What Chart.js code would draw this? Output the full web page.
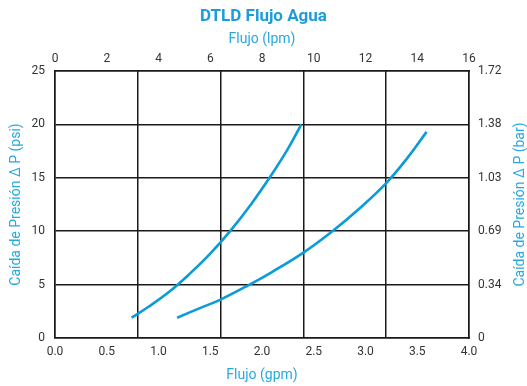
<!DOCTYPE html>
<html>
<head>
<meta charset="utf-8">
<script src="https://cdn.jsdelivr.net/npm/chart.js@4.4.1/dist/chart.umd.min.js"></script>
<style>
  html, body { margin: 0; padding: 0; background: #fff; }
  #wrap { width: 527px; height: 386px; }
</style>
</head>
<body>
<div id="wrap"><canvas id="flowChart" width="527" height="386"></canvas></div>
<script>
// tick labels
const gpmTicks = [0, 0.5, 1, 1.5, 2, 2.5, 3, 3.5, 4];
const lpmTicks = [0, 2, 4, 6, 8, 10, 12, 14, 16];
const psiTicks = [0, 5, 10, 15, 20, 25];
const barLabels = ['0', '0.34', '0.69', '1.03', '1.38', '1.72'];
const gridGpm = [0, 0.8, 1.6, 2.4, 3.2, 4.0]; // vertical grid lines

// curve A (left, steeper)
const curveAFlow = [0.74, 0.9, 1.1, 1.3, 1.5, 1.7, 1.9, 2.1, 2.25, 2.38];
const curveAPsi  = [1.9, 2.9, 4.3, 6.0, 7.9, 10.1, 12.6, 15.4, 17.7, 20.0];

// curve B (right)
const curveBFlow = [1.18, 1.4, 1.6, 1.88, 2.1, 2.4, 2.68, 2.95, 3.2, 3.4, 3.59];
const curveBPsi  = [1.9, 2.8, 3.6, 5.0, 6.2, 8.0, 10.0, 12.2, 14.5, 16.8, 19.3];

const lineBlue = '#0a9bd9';
const titleBlue = '#29a8e0';
const inkGrid = '#1a1a1a';

const toPoints = (xs, ys) => xs.map((x, i) => ({ x: x, y: ys[i] }));
const fixTicks = (vals) => (scale) => { scale.ticks = vals.map(v => ({ value: v })); };

const rightTitle = {
    id: 'rightTitle',
    afterDraw(chart) {
        const { ctx, chartArea } = chart;
        ctx.save();
        ctx.translate(520, (chartArea.top + chartArea.bottom) / 2);
        ctx.rotate(-Math.PI / 2);
        ctx.fillStyle = titleBlue;
        ctx.font = '14px Roboto';
        ctx.textAlign = 'center';
        ctx.textBaseline = 'middle';
        ctx.fillText('Caída de Presión Δ P (bar)', 0, 0);
        ctx.restore();
    }
};

const tickFont = { family: 'Roboto', size: 12 };
const axisTitleFont = { family: 'Roboto', size: 14 };

new Chart(document.getElementById('flowChart'), {
    type: 'line',
    data: {
        datasets: [
            { data: toPoints(curveAFlow, curveAPsi) },
            { data: toPoints(curveBFlow, curveBPsi) }
        ]
    },
    options: {
        responsive: false,
        animation: false,
        parsing: false,
        layout: { padding: 0 },
        elements: {
            line: { borderColor: lineBlue, borderWidth: 2.6, tension: 0.4, fill: false },
            point: { radius: 0 }
        },
        plugins: {
            legend: { display: false },
            tooltip: { enabled: false },
            title: {
                display: true,
                text: 'DTLD Flujo Agua',
                color: '#1b9ddb',
                font: { family: 'Roboto', size: 17, weight: 'bold' },
                padding: { top: 7, bottom: 3 }
            }
        },
        scales: {
            x: {
                type: 'linear', position: 'bottom', min: 0, max: 4,
                afterBuildTicks: fixTicks(gpmTicks),
                afterFit: (s) => { s.height = 48; },
                grid: { display: false, drawTicks: false },
                border: { display: true, color: inkGrid, width: 1.5 },
                ticks: { color: '#333', font: tickFont, padding: 7, maxRotation: 0,
                    callback: (v) => v.toFixed(1) },
                title: { display: true, text: 'Flujo (gpm)', color: titleBlue, font: axisTitleFont, padding: { top: 2, bottom: 2 } }
            },
            gx: {
                type: 'linear', position: 'bottom', min: 0, max: 4,
                afterBuildTicks: fixTicks(gridGpm),
                afterFit: (s) => { s.height = 0; },
                grid: { color: inkGrid, lineWidth: 1.5, drawTicks: false },
                border: { display: false },
                ticks: { display: false }
            },
            x2: {
                type: 'linear', position: 'top', min: 0, max: 16,
                afterBuildTicks: fixTicks(lpmTicks),
                afterFit: (s) => { s.height = 40.6; },
                grid: { display: false, drawTicks: false },
                border: { display: true, color: inkGrid, width: 1.5 },
                ticks: { color: '#333', font: tickFont, padding: 5, maxRotation: 0 },
                title: { display: true, text: 'Flujo (lpm)', color: titleBlue, font: axisTitleFont, padding: { top: 1, bottom: 1 } }
            },
            y: {
                type: 'linear', position: 'left', min: 0, max: 25,
                afterBuildTicks: fixTicks(psiTicks),
                afterFit: (s) => { s.width = 55; },
                grid: { color: inkGrid, lineWidth: 1.5, drawTicks: false },
                border: { display: true, color: inkGrid, width: 1.5 },
                ticks: { color: '#333', font: tickFont, padding: 10 },
                title: { display: true, text: 'Caída de Presión Δ P (psi)', color: titleBlue, font: axisTitleFont, padding: { top: 8, bottom: 0 } }
            },
            y2: {
                type: 'linear', position: 'right', min: 0, max: 25,
                afterBuildTicks: fixTicks(psiTicks),
                afterFit: (s) => { s.width = 58; },
                grid: { display: false, drawTicks: false },
                border: { display: true, color: inkGrid, width: 1.5 },
                ticks: { color: '#333', font: tickFont, padding: 9,
                    callback: (v, i) => barLabels[i] }
            }
        }
    },
    plugins: [rightTitle]
});
</script>
</body>
</html>
